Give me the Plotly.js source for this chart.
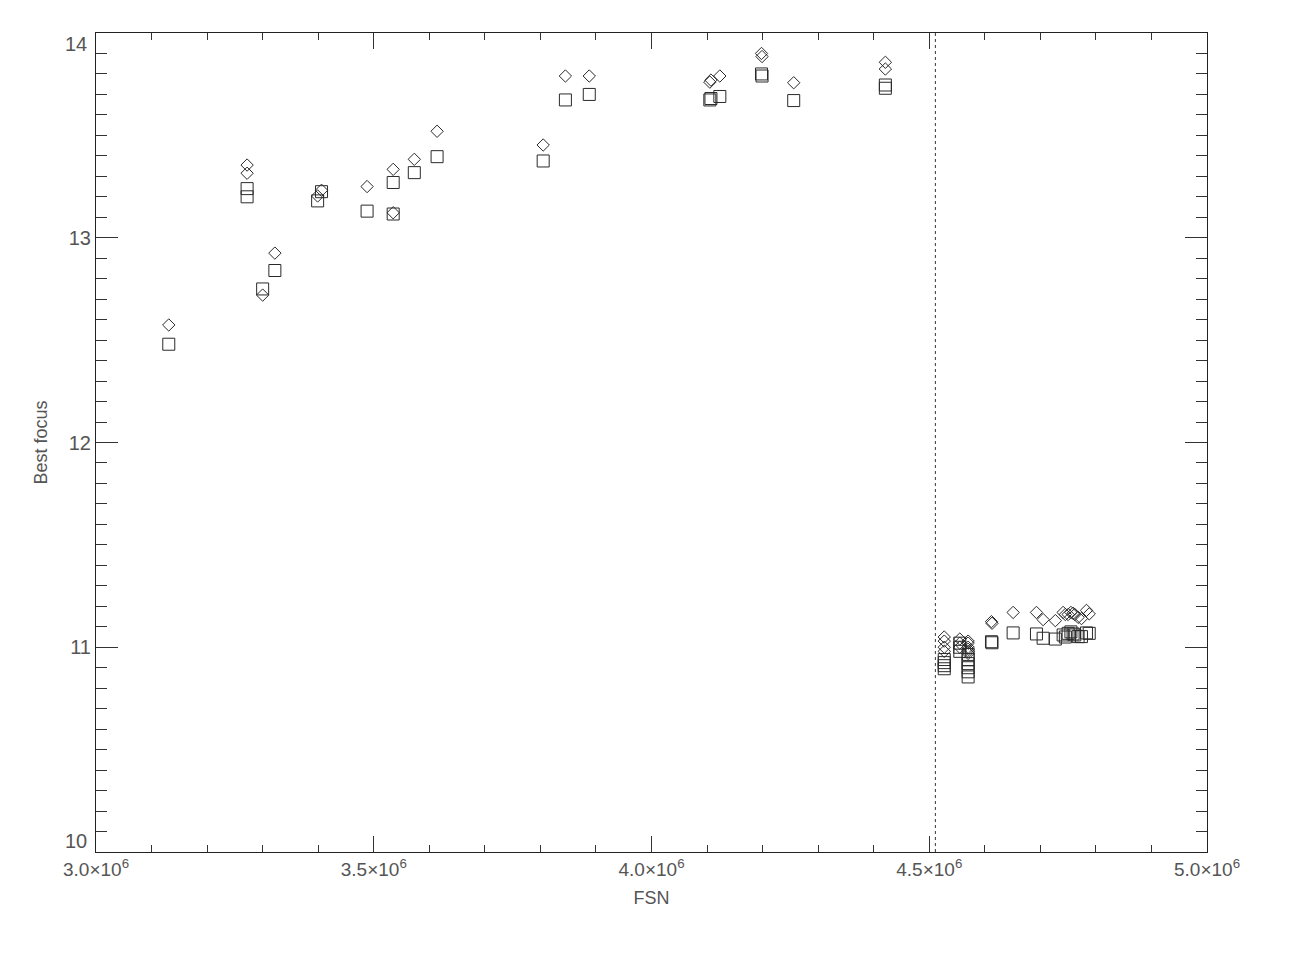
<!DOCTYPE html>
<html>
<head>
<meta charset="utf-8">
<script src="https://cdn.plot.ly/plotly-3.0.1.min.js"></script>
<style>html,body{margin:0;padding:0;background:#fff;}#chart{width:1307px;height:956px;}</style>
</head>
<body>
<div id="chart"></div>
<script>
// FSN for each measurement
const fsn = [
  3.131e6, 3.272e6, 3.272e6, 3.300e6, 3.322e6, 3.399e6, 3.406e6, 3.488e6,
  3.535e6, 3.535e6, 3.573e6, 3.614e6, 3.805e6, 3.845e6, 3.888e6, 4.105e6,
  4.107e6, 4.123e6, 4.198e6, 4.199e6, 4.256e6, 4.421e6, 4.421e6,
  4.527e6, 4.527e6, 4.527e6, 4.527e6,
  4.555e6, 4.555e6, 4.555e6,
  4.570e6, 4.570e6, 4.570e6, 4.570e6, 4.570e6, 4.570e6,
  4.612e6, 4.613e6, 4.651e6, 4.693e6, 4.705e6, 4.727e6,
  4.741e6, 4.745e6, 4.750e6, 4.755e6, 4.759e6, 4.762e6, 4.768e6, 4.774e6,
  4.783e6, 4.788e6
];
// Best focus, diamond series
const focusDiamond = [
  12.574, 13.355, 13.315, 12.72, 12.925, 13.204, 13.232, 13.25,
  13.334, 13.122, 13.383, 13.52, 13.453, 13.79, 13.79, 13.76,
  13.77, 13.79, 13.90, 13.885, 13.757, 13.857, 13.824,
  11.05, 11.03, 11.0, 10.98,
  11.04, 11.02, 11.0,
  11.03, 11.02, 11.0, 10.99, 10.98, 10.97,
  11.125, 11.117, 11.17, 11.17, 11.135, 11.13,
  11.17, 11.16, 11.16, 11.17, 11.166, 11.16, 11.146, 11.14,
  11.18, 11.163
];
// Best focus, square series
const focusSquare = [
  12.48, 13.24, 13.20, 12.75, 12.84, 13.18, 13.225, 13.13,
  13.27, 13.116, 13.318, 13.396, 13.375, 13.673, 13.70, 13.673,
  13.68, 13.69, 13.80, 13.79, 13.67, 13.746, 13.73,
  10.94, 10.925, 10.91, 10.895,
  11.02, 11.0, 10.98,
  10.965, 10.94, 10.92, 10.90, 10.88, 10.855,
  11.027, 11.022, 11.07, 11.065, 11.044, 11.04,
  11.06, 11.05, 11.068, 11.075, 11.065, 11.06, 11.052, 11.052,
  11.07, 11.068
];
const cutoffFSN = 4.511e6;
const yRange = [10, 14];
const xRange = [3.0e6, 5.0e6];
const xTickVals = [3.0e6, 3.5e6, 4.0e6, 4.5e6, 5.0e6];
const xTickText = ['3.0×10<sup>6</sup>', '3.5×10<sup>6</sup>', '4.0×10<sup>6</sup>', '4.5×10<sup>6</sup>', '5.0×10<sup>6</sup>'];
const yTickVals = [10, 11, 12, 13, 14];
const yTickText = ['10', '11', '12', '13', '14'];

const mk = '#2a2a2a';
const traces = [
  {
    x: [cutoffFSN, cutoffFSN], y: yRange, mode: 'lines',
    line: {color: '#333', width: 1, dash: 'dot'}, hoverinfo: 'skip'
  },
  {
    x: fsn, y: focusDiamond, mode: 'markers',
    marker: {symbol: 'diamond-open', size: 9.5, color: mk, line: {width: 1, color: mk}}
  },
  {
    x: fsn, y: focusSquare, mode: 'markers',
    marker: {symbol: 'square-open', size: 12, color: mk, line: {width: 1, color: mk}}
  }
];

const fam = 'Liberation Sans, Arial, sans-serif';
// inner tick labels drawn by the axis; the two end labels are kept inside the axis span (as in the reference)
const innerText = yTickText.map((t, i) => (i === 0 || i === yTickText.length - 1) ? '' : t);
const endAnn = [0, yTickText.length - 1].map(i => ({
  xref: 'paper', yref: 'y', x: 0, y: yTickVals[i],
  xanchor: 'right', yanchor: i === 0 ? 'bottom' : 'top',
  xshift: -7, yshift: i === 0 ? -2 : 2,
  text: yTickText[i], showarrow: false,
  font: {family: fam, size: 20, color: '#555'}
}));

const layout = {
  width: 1307, height: 956,
  margin: {l: 96, r: 100, t: 33, b: 104},
  paper_bgcolor: '#fff', plot_bgcolor: '#fff',
  showlegend: false,
  font: {family: fam, size: 18, color: '#555'},
  annotations: endAnn,
  xaxis: {
    range: xRange, showgrid: false, zeroline: false,
    showline: true, linecolor: '#222', linewidth: 1, mirror: 'ticks',
    ticks: 'inside', ticklen: 16, tickcolor: '#333', tickwidth: 1,
    tickvals: xTickVals, ticktext: xTickText,
    tickfont: {family: fam, size: 19, color: '#555'},
    minor: {dtick: 1e5, ticks: 'inside', ticklen: 7, tickcolor: '#333', showgrid: false},
    title: {text: 'FSN', font: {family: fam, size: 18, color: '#555'}, standoff: 12}
  },
  yaxis: {
    range: yRange, showgrid: false, zeroline: false,
    showline: true, linecolor: '#222', linewidth: 1, mirror: 'ticks',
    ticks: 'inside', ticklen: 22, tickcolor: '#333', tickwidth: 1,
    tickvals: yTickVals, ticktext: innerText,
    tickfont: {family: fam, size: 20, color: '#555'},
    minor: {dtick: 0.1, ticks: 'inside', ticklen: 11, tickcolor: '#333', showgrid: false},
    title: {text: 'Best focus', font: {family: fam, size: 18, color: '#555'}, standoff: 16}
  }
};
Plotly.newPlot('chart', traces, layout, {displayModeBar: false, staticPlot: true});
</script>
</body>
</html>
